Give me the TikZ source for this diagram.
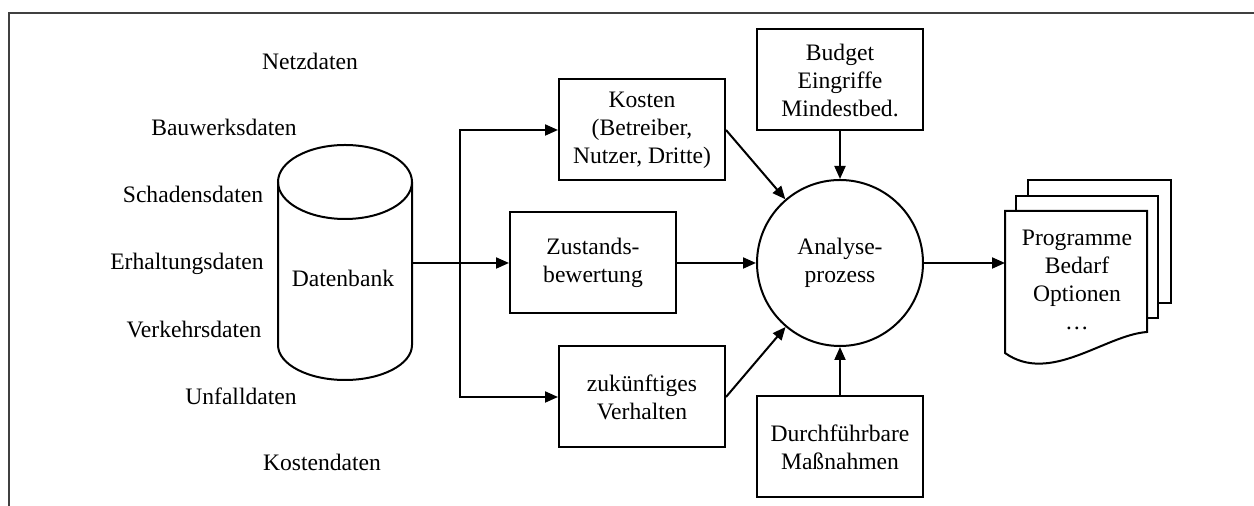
\documentclass[tikz,border=0pt]{standalone}
\usepackage{fontspec}
\setmainfont{Liberation Serif}
\usetikzlibrary{arrows.meta}
\begin{document}
\begin{tikzpicture}[x=0.5pt,y=-0.5pt,line width=1pt,
  every node/.style={font=\fontsize{11.8pt}{14pt}\selectfont},
  box/.style={draw,minimum width=83pt,minimum height=50.5pt,inner sep=0pt,align=center},
  arr/.style={-{Triangle[length=6.5pt,width=5.5pt]}},
  lbl/.style={anchor=base,inner sep=0pt}]
\useasboundingbox (0,0) rectangle (1254,506);

% outer frame
\draw[line width=0.8pt,black!75] (9,506) -- (9,13) -- (1254,13);

% data sources
\node[lbl] (netz)   at (310,70)  {Netzdaten};
\node[lbl] (bauw)   at (224,136) {Bauwerksdaten};
\node[lbl] (schad)  at (193,203) {Schadensdaten};
\node[lbl] (erh)    at (187,270) {Erhaltungsdaten};
\node[lbl] (verk)   at (194,338) {Verkehrsdaten};
\node[lbl] (unf)    at (241,405) {Unfalldaten};
\node[lbl] (kostd)  at (322,471) {Kostendaten};

% database cylinder
\draw (278,182) -- (278,345) arc[start angle=180,end angle=360,x radius=33.5pt,y radius=17.5pt] -- (412,182);
\draw (345,182) ellipse[x radius=33.5pt,y radius=18.5pt];
\node[lbl] (db) at (343,287) {Datenbank};
\coordinate (dbR) at (412,263);
\coordinate (split) at (460,263);

% processing boxes
\node[box] (kosten) at (642,130) {Kosten\\(Betreiber,\\Nutzer, Dritte)};
\node[box] (zust)   at (593,263) {Zustands-\\bewertung};
\node[box] (zuk)    at (642,397) {zukünftiges\\Verhalten};
\node[box] (budget) at (840,80)  {Budget\\Eingriffe\\Mindestbed.};
\node[box] (durch)  at (840,447) {Durchführbare\\Maßnahmen};
\node[draw,circle,minimum size=83pt,inner sep=0pt,align=center] (ana) at (840,263) {Analyse-\\prozess};

% output document stack
\draw[fill=white] (1028,180) rectangle (1171,303);
\draw[fill=white] (1016,196) rectangle (1158,318);
\draw[fill=white] (1005,353) -- (1005,211) -- (1147,211) -- (1147,332)
  .. controls (1105,335) and (1050,385) .. (1005,353) -- cycle;
\node[align=center,inner sep=0pt] (doc) at (1077,280) {Programme\\Bedarf\\Optionen\\\dots};
\coordinate (docL) at (1005,263);

% connectors
\draw[arr] (dbR) -- (zust.west);
\draw[arr] (split) |- (kosten.west);
\draw[arr] (split) |- (zuk.west);
\draw[arr] (kosten.east) -- (ana);
\draw[arr] (zust.east) -- (ana.west);
\draw[arr] (zuk.east) -- (ana);
\draw[arr] (budget.south) -- (ana.north);
\draw[arr] (durch.north) -- (ana.south);
\draw[arr] (ana.east) -- (docL);
\end{tikzpicture}
\end{document}
